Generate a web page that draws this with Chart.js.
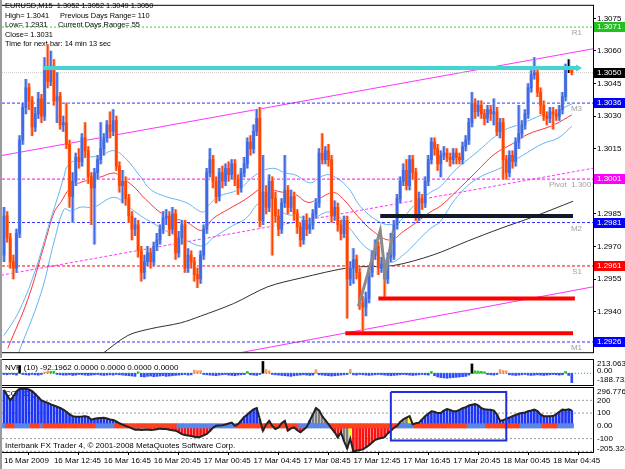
<!DOCTYPE html>
<html>
<head>
<meta charset="utf-8">
<script src="https://cdn.jsdelivr.net/npm/chart.js@4.4.0/dist/chart.umd.min.js"></script>
<style>
  html, body { margin: 0; padding: 0; background: #fff; }
  #wrap { position: relative; width: 625px; height: 469px; background: #fff; overflow: hidden; }
  canvas { position: absolute; left: 0; }
</style>
</head>
<body>
<div id="wrap">
  <canvas id="main" width="625" height="358" style="top:0"></canvas>
  <canvas id="nvp" width="625" height="27" style="top:359px"></canvas>
  <canvas id="cci" width="625" height="83" style="top:386px"></canvas>
</div>
<script>
// ---- time axis ----
const timeLabels = ['16 Mar 2009', '16 Mar 12:45', '16 Mar 16:45', '16 Mar 20:45', '17 Mar 00:45', '17 Mar 04:45',
  '17 Mar 08:45', '17 Mar 12:45', '17 Mar 16:45', '17 Mar 20:45', '18 Mar 00:45', '18 Mar 04:45'];
const timeLabelBars = [0, 16, 32, 48, 64, 80, 96, 112, 128, 144, 160, 176];

// ---- EURUSD M15 candles (bar 0 .. 182) ----
const opens = [
  1.2966, 1.2984, 1.2974, 1.2963, 1.2960, 1.2976, 1.3019, 1.3034, 1.3043, 1.3037,
  1.3025, 1.3031, 1.3038, 1.3030, 1.3051, 1.3046, 1.3053, 1.3037, 1.3039, 1.3026,
  1.3027, 1.3017, 1.2993, 1.3000, 1.3011, 1.3009, 1.3020, 1.3014, 1.3002, 1.2997,
  1.3004, 1.3010, 1.3015, 1.3020, 1.3026, 1.3023, 1.3028, 1.3007, 1.2998, 1.3000,
  1.2992, 1.2984, 1.2978, 1.2980, 1.2968, 1.2958, 1.2963, 1.2967, 1.2963, 1.2970,
  1.2973, 1.2978, 1.2983, 1.2984, 1.2978, 1.2985, 1.2967, 1.2974, 1.2980, 1.2960,
  1.2966, 1.2963, 1.2957, 1.2955, 1.2966, 1.2978, 1.3004, 1.3010, 1.3000, 1.2993,
  1.3004, 1.3000, 1.3006, 1.3003, 1.3008, 1.3001, 1.2997, 1.3004, 1.3008, 1.3018,
  1.3015, 1.3023, 1.3029, 1.2982, 1.2995, 1.2988, 1.3000, 1.2992, 1.2984, 1.2978,
  1.2990, 1.2996, 1.2988, 1.2993, 1.2985, 1.2979, 1.2973, 1.2982, 1.2978, 1.2980,
  1.2985, 1.2990, 1.3013, 1.3010, 1.3014, 1.3010, 1.2984, 1.2988, 1.2980, 1.2976,
  1.2982, 1.2955, 1.2960, 1.2964, 1.2958, 1.2944, 1.2942, 1.2946, 1.2958, 1.2966,
  1.2970, 1.2960, 1.2962, 1.2955, 1.2965, 1.2966, 1.2980, 1.2992, 1.3000, 1.3005,
  1.2998, 1.3010, 1.3004, 1.2984, 1.2992, 1.2990, 1.3000, 1.3010, 1.3018, 1.3015,
  1.3008, 1.3012, 1.3013, 1.3011, 1.3010, 1.3013, 1.3011, 1.3010, 1.3016, 1.3019,
  1.3027, 1.3036, 1.3032, 1.3035, 1.3031, 1.3029, 1.3033, 1.3031, 1.3032, 1.3023,
  1.3027, 1.3010, 1.3004, 1.3012, 1.3009, 1.3018, 1.3022, 1.3026, 1.3031, 1.3043,
  1.3049, 1.3050, 1.3041, 1.3035, 1.3030, 1.3029, 1.3032, 1.3031, 1.3030, 1.3033,
  1.3039, 1.3052, 1.3052
];
const highs = [
  1.2988, 1.2986, 1.2976, 1.2966, 1.2978, 1.3021, 1.3036, 1.3047, 1.3045, 1.3039,
  1.3034, 1.3041, 1.3040, 1.3057, 1.3063, 1.3060, 1.3056, 1.3050, 1.3041, 1.3030,
  1.3036, 1.3019, 1.3004, 1.3013, 1.3015, 1.3022, 1.3027, 1.3016, 1.3004, 1.3006,
  1.3012, 1.3027, 1.3022, 1.3028, 1.3032, 1.3033, 1.3030, 1.3009, 1.3005, 1.3002,
  1.2994, 1.2986, 1.2983, 1.2982, 1.2970, 1.2966, 1.2970, 1.2969, 1.2972, 1.2976,
  1.2980, 1.2986, 1.2987, 1.2986, 1.2988, 1.2987, 1.2977, 1.2982, 1.2982, 1.2969,
  1.2968, 1.2965, 1.2960, 1.2968, 1.2980, 1.3006, 1.3015, 1.3012, 1.3002, 1.3006,
  1.3007, 1.3008, 1.3009, 1.3010, 1.3010, 1.3003, 1.3006, 1.3011, 1.3020, 1.3021,
  1.3026, 1.3033, 1.3034, 1.3012, 1.2998, 1.3003, 1.3002, 1.2995, 1.2987, 1.2992,
  1.3012, 1.2998, 1.2996, 1.2995, 1.2987, 1.2981, 1.2984, 1.2985, 1.2983, 1.2987,
  1.2992, 1.3015, 1.3022, 1.3016, 1.3017, 1.3012, 1.2991, 1.2990, 1.2982, 1.2984,
  1.2984, 1.2963, 1.2969, 1.2966, 1.2960, 1.2947, 1.2949, 1.2960, 1.2968, 1.2973,
  1.2972, 1.2965, 1.2964, 1.2967, 1.2976, 1.2982, 1.2994, 1.3002, 1.3008, 1.3010,
  1.3012, 1.3012, 1.3006, 1.2995, 1.2994, 1.3002, 1.3012, 1.3020, 1.3020, 1.3017,
  1.3014, 1.3016, 1.3015, 1.3013, 1.3015, 1.3015, 1.3013, 1.3018, 1.3021, 1.3029,
  1.3041, 1.3038, 1.3037, 1.3037, 1.3033, 1.3035, 1.3035, 1.3038, 1.3034, 1.3029,
  1.3029, 1.3012, 1.3014, 1.3014, 1.3020, 1.3035, 1.3028, 1.3033, 1.3045, 1.3051,
  1.3057, 1.3052, 1.3043, 1.3037, 1.3032, 1.3034, 1.3034, 1.3033, 1.3035, 1.3041,
  1.3054, 1.3056, 1.3052
];
const lows = [
  1.2963, 1.2972, 1.2960, 1.2955, 1.2958, 1.2974, 1.3017, 1.3031, 1.3033, 1.3021,
  1.3023, 1.3029, 1.3027, 1.3028, 1.3043, 1.3044, 1.3035, 1.3027, 1.3024, 1.3023,
  1.3015, 1.2988, 1.2981, 1.2998, 1.3006, 1.3007, 1.3011, 1.2999, 1.2980, 1.2971,
  1.3001, 1.3008, 1.3012, 1.3018, 1.3020, 1.3021, 1.3005, 1.2995, 1.2990, 1.2989,
  1.2981, 1.2973, 1.2975, 1.2965, 1.2954, 1.2955, 1.2961, 1.2960, 1.2961, 1.2968,
  1.2971, 1.2976, 1.2980, 1.2975, 1.2976, 1.2964, 1.2965, 1.2971, 1.2958, 1.2958,
  1.2960, 1.2954, 1.2951, 1.2953, 1.2964, 1.2976, 1.3002, 1.2997, 1.2990, 1.2991,
  1.2997, 1.2998, 1.3000, 1.3001, 1.2998, 1.2994, 1.2995, 1.3002, 1.3006, 1.3012,
  1.3013, 1.3021, 1.2979, 1.2980, 1.2985, 1.2986, 1.2966, 1.2981, 1.2975, 1.2976,
  1.2988, 1.2985, 1.2986, 1.2982, 1.2976, 1.2970, 1.2971, 1.2975, 1.2976, 1.2978,
  1.2983, 1.2988, 1.3008, 1.3008, 1.3007, 1.2981, 1.2982, 1.2977, 1.2973, 1.2974,
  1.2937, 1.2952, 1.2953, 1.2955, 1.2941, 1.2931, 1.2938, 1.2944, 1.2956, 1.2964,
  1.2957, 1.2958, 1.2947, 1.2953, 1.2963, 1.2964, 1.2978, 1.2990, 1.2998, 1.2996,
  1.2996, 1.3001, 1.2982, 1.2982, 1.2987, 1.2988, 1.2998, 1.3008, 1.3012, 1.3005,
  1.3002, 1.3010, 1.3009, 1.3007, 1.3008, 1.3008, 1.3008, 1.3008, 1.3014, 1.3017,
  1.3025, 1.3029, 1.3030, 1.3029, 1.3026, 1.3027, 1.3028, 1.3026, 1.3021, 1.3020,
  1.3001, 1.3001, 1.3002, 1.3006, 1.3007, 1.3015, 1.3020, 1.3024, 1.3029, 1.3041,
  1.3047, 1.3039, 1.3031, 1.3028, 1.3026, 1.3027, 1.3024, 1.3028, 1.3028, 1.3031,
  1.3037, 1.3050, 1.3049
];
const closes = [
  1.2984, 1.2974, 1.2963, 1.2960, 1.2976, 1.3019, 1.3034, 1.3043, 1.3037, 1.3025,
  1.3031, 1.3038, 1.3030, 1.3051, 1.3046, 1.3053, 1.3037, 1.3039, 1.3026, 1.3027,
  1.3017, 1.2993, 1.3000, 1.3011, 1.3009, 1.3020, 1.3014, 1.3002, 1.2997, 1.3004,
  1.3010, 1.3015, 1.3020, 1.3026, 1.3023, 1.3028, 1.3007, 1.2998, 1.3000, 1.2992,
  1.2984, 1.2978, 1.2980, 1.2968, 1.2958, 1.2963, 1.2967, 1.2963, 1.2970, 1.2973,
  1.2978, 1.2983, 1.2984, 1.2978, 1.2985, 1.2967, 1.2974, 1.2980, 1.2960, 1.2966,
  1.2963, 1.2957, 1.2955, 1.2966, 1.2978, 1.3004, 1.3010, 1.3000, 1.2993, 1.3004,
  1.3000, 1.3006, 1.3003, 1.3008, 1.3001, 1.2997, 1.3004, 1.3008, 1.3018, 1.3015,
  1.3023, 1.3029, 1.2982, 1.2995, 1.2988, 1.3000, 1.2992, 1.2984, 1.2978, 1.2990,
  1.2996, 1.2988, 1.2993, 1.2985, 1.2979, 1.2973, 1.2982, 1.2978, 1.2980, 1.2985,
  1.2990, 1.3013, 1.3010, 1.3014, 1.3010, 1.2984, 1.2988, 1.2980, 1.2976, 1.2982,
  1.2955, 1.2960, 1.2964, 1.2958, 1.2944, 1.2942, 1.2946, 1.2958, 1.2966, 1.2970,
  1.2960, 1.2962, 1.2955, 1.2965, 1.2966, 1.2980, 1.2992, 1.3000, 1.3005, 1.2998,
  1.3010, 1.3004, 1.2984, 1.2992, 1.2990, 1.3000, 1.3010, 1.3018, 1.3015, 1.3008,
  1.3012, 1.3013, 1.3011, 1.3010, 1.3013, 1.3011, 1.3010, 1.3016, 1.3019, 1.3027,
  1.3036, 1.3032, 1.3035, 1.3031, 1.3029, 1.3033, 1.3031, 1.3032, 1.3023, 1.3027,
  1.3010, 1.3004, 1.3012, 1.3009, 1.3018, 1.3022, 1.3026, 1.3031, 1.3043, 1.3049,
  1.3050, 1.3041, 1.3035, 1.3030, 1.3029, 1.3032, 1.3031, 1.3030, 1.3033, 1.3039,
  1.3052, 1.3052, 1.3050
];

// ---- overlays: [bar, price] ----
const upperBand = [[0, 1.2929], [4.5, 1.29393], [9.6, 1.29572], [15, 1.29827], [17.3, 1.2993], [19.2, 1.3002],
  [20.5, 1.30074], [24.6, 1.30105], [31, 1.30118], [35.2, 1.30141], [39, 1.30105], [43.8, 1.3002], [47, 1.29962],
  [51.8, 1.2993], [58.2, 1.29903], [63.7, 1.29858], [65.3, 1.29885], [68.8, 1.2993], [75.2, 1.29962], [80.6, 1.30029],
  [86, 1.3006], [90.2, 1.30038], [93.4, 1.30029], [98.2, 1.29993], [101.4, 1.3002], [104.6, 1.30029], [110, 1.29975],
  [114.2, 1.29885], [119.7, 1.29818], [123.8, 1.2980], [127, 1.29818], [131.2, 1.29885], [136.6, 1.29948],
  [139.8, 1.29975], [144.6, 1.30051], [151, 1.30127], [159.7, 1.3023], [166.1, 1.30266], [172.5, 1.30306],
  [177.6, 1.30329], [182, 1.30356]];
const middleBand = [[1.2, 1.29231], [7.6, 1.29455], [12.9, 1.29706], [16.1, 1.29858], [18.2, 1.29903], [21.4, 1.2997],
  [26.9, 1.30006], [31, 1.3002], [35.2, 1.30038], [37.4, 1.3002], [41.6, 1.29975], [45.4, 1.29917], [51.8, 1.29841],
  [58.2, 1.29814], [63.7, 1.29773], [66.9, 1.29827], [72, 1.29872], [77.4, 1.29917], [81.6, 1.29962], [82.9, 1.29975],
  [88, 1.29953], [93.4, 1.29939], [97.3, 1.29903], [100.5, 1.29917], [105.6, 1.29948], [108.8, 1.29917],
  [113.3, 1.29841], [118.4, 1.29769], [123.8, 1.29729], [128, 1.29769], [132.5, 1.29814], [136.6, 1.29858],
  [139.8, 1.29885], [144.6, 1.29948], [151, 1.30038], [157.4, 1.30127], [162.9, 1.30172], [168, 1.30217],
  [173.4, 1.30244], [176.6, 1.30262], [182, 1.30306]];
const lowerBand = [[4.4, 1.2920], [11.8, 1.29482], [16.1, 1.29724], [19.3, 1.29872], [21.4, 1.29863], [24.6, 1.29881],
  [28.8, 1.29881], [35.2, 1.29926], [39.7, 1.29885], [43.8, 1.29841], [47, 1.29814], [51.8, 1.29773], [58.2, 1.29729],
  [63.7, 1.29702], [66.9, 1.29738], [73.3, 1.29796], [77.4, 1.29827], [82.2, 1.29903], [86, 1.29885], [90.2, 1.2985],
  [93.4, 1.29841], [98.2, 1.29827], [104.6, 1.29858], [110, 1.29796], [115.2, 1.29706], [119.7, 1.29661],
  [123.8, 1.29626], [128, 1.29661], [132.5, 1.29724], [136.6, 1.29782], [139.8, 1.29814], [144.6, 1.29917],
  [151, 1.30006], [159.7, 1.30065], [166.1, 1.30118], [172.5, 1.30172], [177.6, 1.30199], [182, 1.30253]];
const slowMA = [[31, 1.2920], [39.7, 1.2929], [47, 1.29321], [56.6, 1.29348], [63, 1.29379], [73.6, 1.29437],
  [84.5, 1.29514], [95, 1.29554], [111, 1.29603], [124.8, 1.29612], [137.6, 1.29661], [148.5, 1.29724],
  [159, 1.29782], [169.6, 1.29836], [182.4, 1.29908]];

const channelTop = [[-0.96, 1.30118], [188.8, 1.30610]];
const channelMid = [[-0.96, 1.29567], [188.8, 1.30060]];
const channelLow = [[71.7, 1.2920], [188.8, 1.29514]];
const cyanLevel = [[12.8, 1.30522], [184, 1.30522]];
const blackLevel = [[120.6, 1.2984], [182.4, 1.2984]];
const redLevelHigh = [[120, 1.2946], [183, 1.2946]];
const redLevelLow = [[109.4, 1.2930], [182.4, 1.2930]];
const zigzag = [[113.6, 1.29424], [120.6, 1.29773], [122.2, 1.29572], [124.8, 1.29773]];

const priceTicks = [1.2925, 1.2940, 1.2955, 1.2970, 1.2985, 1.3000, 1.3015, 1.3030, 1.3045, 1.3060, 1.3075];
const pivotNames = ['R1', 'M3', 'Pivot  1.3001', 'M2', 'S1', 'M1'];
const pivotLevels = [1.3071, 1.3036, 1.3001, 1.2981, 1.2961, 1.2926];
const bidPrice = 1.3050;

// ---- NVP (10) histogram ----
const nvpValues = [
  -20, -25, -15, -20, -30, 120, -20, -25, -30, -20,
  -25, -30, -20, 20, 40, 30, 35, -20, -25, -30,
  -30, -25, -35, -30, -20, -25, -30, -35, -30, -25,
  -20, -30, -35, -30, -25, -30, -20, -25, -30, -35,
  -40, -45, -50, 25, -55, -60, -50, -45, -55, -50,
  -45, -40, -50, -45, -40, -35, -30, -25, -20, -30,
  -25, 50, 40, 45, -20, -25, -30, -35, -40, -30,
  -25, -20, -30, -35, -40, -30, -25, -20, 30, -25,
  -30, -35, -20, 190, 60, 40, -20, -25, -30, -35,
  -40, -45, -50, -40, -35, -30, -25, -30, -35, -30,
  60, -25, -30, -35, -40, -45, -40, -35, -30, -25,
  -20, 60, -25, -30, -20, -25, -30, -35, -30, -25,
  -20, -25, -30, -35, -40, -35, -30, -25, -20, -25,
  -30, -35, -30, -25, -20, -25, -30, 30, -40, -60,
  -70, -75, -80, -75, -70, -65, -60, -55, -50, -30,
  150, 40, 35, 30, 25, -20, -25, -30, -20, 60,
  45, 40, -25, -30, -35, -30, -25, -20, -30, -35,
  -30, -25, -30, -35, -30, -25, -20, -25, -30, -25,
  30, -35, -150
];
const nvpBlackBars = [5, 83, 150];
const nvpGreenBars = [15, 16, 43, 78, 137, 151, 152, 153, 154, 180];
const nvpOrangeBars = [13, 14, 61, 62, 63, 84, 85, 100, 111, 159, 160, 161];

// ---- CCI (63) ----
const cciValues = [
  280, 240, 200, 230, 270, 290, 292, 290, 285, 272,
  250, 225, 200, 190, 180, 168, 160, 150, 140, 128,
  110, 90, 76, 72, 71, 73, 76, 70, 48, 55,
  60, 62, 63, 58, 50, 46, 35, 20, 10, 0,
  -10, -20, -30, -28, -32, -30, -28, -32, -30, -26,
  -22, -25, -25, -30, -35, -38, -50, -65, -72, -76,
  -80, -85, -89, -85, -75, -63, -40, -15, 0, 3,
  5, 10, 18, 25, 0, 13, 40, 70, 89, 110,
  130, 139, 51, -38, 10, 38, 0, -25, -13, 20,
  38, -38, -20, -13, -35, -51, -30, -10, 40, 89,
  139, 120, 76, 45, 13, -20, -51, -90, -51, -120,
  -177, -101, -203, -195, -190, -185, -170, -152, -130, -110,
  -101, -95, -89, -60, -38, -15, 0, 30, 51, 65,
  76, 13, 20, 25, 50, 76, 95, 114, 110, 100,
  101, 120, 132, 125, 114, 115, 125, 139, 145, 160,
  165, 170, 160, 139, 130, 128, 127, 120, 90, 38,
  45, 55, 65, 76, 85, 95, 101, 105, 115, 120,
  127, 115, 90, 76, 75, 76, 77, 90, 110, 127,
  125, 130, 120
];
const cciGrayBars = [41, 42, 43, 44, 45, 46, 99, 100, 101, 102, 103, 104, 109, 110, 127, 128, 129, 131];
const cciYellowBars = [111, 130];
const cciLevels = [200, 100, -100, -200];
// trend state of the zero line: [first bar, last bar + 1, state]
const zeroTrendRuns = [[0, 1, 'up'], [1, 4, 'dn'], [4, 9, 'up'], [9, 12, 'dn'], [12, 13, 'up'], [13, 30, 'dn'],
  [30, 36, 'up'], [36, 56, 'dn'], [56, 75, 'up'], [75, 95, 'dn'], [95, 105, 'up'], [105, 127, 'dn'],
  [127, 132, 'up'], [132, 149, 'dn'], [149, 155, 'up'], [155, 166, 'dn'], [166, 173, 'up'], [173, 178, 'dn'],
  [178, 183, 'up']];
const cciBox = [[124, 265], [161, 265], [161, -115], [124, -115], [124, 265]];

// ---- look ----
const X_MIN = -0.64, X_MAX = 188.8;
const FONT = '"Liberation Sans", Arial, sans-serif';
const SMALL = { family: FONT, size: 8 };
const BULL = '#4169e1', BEAR = '#ff4500';
const BULL_PALE = '#a9bdf5', BEAR_PALE = '#ffb59a';

const xy = arr => arr.map(p => ({ x: p[0], y: p[1] }));
const barIdx = closes.map((c, i) => i);
const candleColor = i => closes[i] > opens[i] ? BULL : (closes[i] < opens[i] ? BEAR : '#000000');
const paleColor = i => closes[i] >= opens[i] ? BULL_PALE : BEAR_PALE;

function lineSet(points, color, width, dash, extra) {
  return Object.assign({
    type: 'line', data: xy(points), borderColor: color, borderWidth: width,
    borderDash: dash || [], pointRadius: 0, fill: false, tension: 0, order: 5
  }, extra || {});
}
function flatLine(value, color, dash) {
  return lineSet([[X_MIN, value], [X_MAX, value]], color, 1, dash);
}
function xAxis(show) {
  return { type: 'linear', min: X_MIN, max: X_MAX, offset: false, display: show };
}
function frame(chart) {
  const ctx = chart.ctx, a = chart.chartArea;
  ctx.save();
  ctx.strokeStyle = '#000';
  ctx.lineWidth = 1;
  ctx.strokeRect(a.left - 0.5, a.top - 0.5, a.right - a.left + 1, a.bottom - a.top + 1);
  ctx.fillStyle = '#9a9a9a';
  ctx.fillRect(0, 0, 2, chart.height);
  ctx.restore();
}
function axisText(chart, text, y, color) {
  const ctx = chart.ctx;
  ctx.save();
  ctx.font = '8px ' + FONT;
  ctx.fillStyle = color || '#000';
  ctx.textBaseline = 'middle';
  ctx.fillText(text, chart.chartArea.right + 4, y);
  ctx.restore();
}

// ================= main price panel =================
const infoLines = ['EURUSD,M15  1.3052 1.3052 1.3049 1.3050', 'High= 1.3041', 'Low= 1.2931', 'Close= 1.3031',
  'Time for next bar: 14 min 13 sec'];
const mainDecor = {
  id: 'mainDecor',
  beforeDatasetsDraw(chart) {
    const ctx = chart.ctx;
    ctx.save();
    ctx.font = '7.4px ' + FONT;
    ctx.fillStyle = '#000';
    ctx.textBaseline = 'middle';
    infoLines.forEach((t, k) => ctx.fillText(t, 5, 6 + k * 9.5));
    ctx.fillText('Previous Days Range= 110', 60, 15.5);
    ctx.fillText('Current Days Range= 55', 58, 25);
    ctx.restore();
  },
  afterDatasetsDraw(chart) {
    const ctx = chart.ctx, y = chart.scales.y, a = chart.chartArea;
    ctx.save();
    ctx.beginPath();
    ctx.rect(a.left, a.top, a.right - a.left, a.bottom - a.top);
    ctx.clip();
    ctx.font = '8px ' + FONT;
    ctx.fillStyle = '#a0a0a0';
    ctx.textBaseline = 'top';
    pivotLevels.forEach((v, k) => {
      const name = pivotNames[k];
      const py = y.getPixelForValue(v) + 2;
      if (name.length > 2) ctx.fillText(name, 549, py);
      else { ctx.textAlign = 'right'; ctx.fillText(name, 582, py); ctx.textAlign = 'left'; }
    });
    ctx.restore();
  },
  afterDraw(chart) {
    frame(chart);
    const ctx = chart.ctx, y = chart.scales.y;
    const boxColors = ['#1fc21f', '#0000ff', '#ff00ff', '#0000ff', '#ff0000', '#0000ff'];
    const boxes = pivotLevels.map((v, k) => [v, boxColors[k]]);
    boxes.splice(1, 0, [bidPrice, '#000000']);
    ctx.save();
    boxes.forEach(b => {
      const py = Math.round(y.getPixelForValue(b[0]));
      ctx.fillStyle = b[1];
      ctx.fillRect(chart.chartArea.right + 1, py - 5, 32, 10);
      ctx.font = '8px ' + FONT;
      ctx.fillStyle = '#fff';
      ctx.textBaseline = 'middle';
      ctx.fillText(b[0].toFixed(4), chart.chartArea.right + 4, py);
    });
    ctx.restore();
  }
};

new Chart(document.getElementById('main'), {
  type: 'bar',
  data: {
    datasets: [
      flatLine(pivotLevels[0], '#33cc33', [2, 2]),
      flatLine(pivotLevels[1], '#3030ff', [3, 2]),
      flatLine(pivotLevels[2], '#ff00ff', [3, 2]),
      flatLine(pivotLevels[3], '#3030ff', [3, 2]),
      flatLine(pivotLevels[4], '#ff0000', [3, 2]),
      flatLine(pivotLevels[5], '#3030ff', [3, 2]),
      flatLine(bidPrice, '#c8c8c8', [1, 1]),
      lineSet(channelTop, '#ff33ff', 1),
      lineSet(channelLow, '#ff33ff', 1),
      lineSet(channelMid, '#ff33ff', 1, [3, 2]),
      lineSet(slowMA, '#303030', 1, [], { tension: 0.3 }),
      lineSet(upperBand, '#66b3ef', 1, [], { tension: 0.4 }),
      lineSet(lowerBand, '#66b3ef', 1, [], { tension: 0.4 }),
      lineSet(middleBand, '#ff3333', 1, [], { tension: 0.4 }),
      {
        type: 'bar', grouped: false, order: 4, barThickness: 3, borderWidth: 0,
        data: barIdx.map(i => ({ x: i, y: [lows[i], highs[i]] })),
        backgroundColor: barIdx.map(paleColor)
      },
      {
        type: 'bar', grouped: false, order: 3, barThickness: 1, borderWidth: 0,
        data: barIdx.map(i => ({ x: i, y: [lows[i], highs[i]] })),
        backgroundColor: barIdx.map(candleColor)
      },
      {
        type: 'bar', grouped: false, order: 2, barThickness: 2, borderWidth: 0, minBarLength: 1,
        data: barIdx.map(i => ({ x: i, y: [opens[i], closes[i]] })),
        backgroundColor: barIdx.map(candleColor)
      },
      lineSet(zigzag, '#8a8a8a', 3, [], { order: 1 }),
      lineSet(blackLevel, '#111a2a', 4, [], { order: 1 }),
      lineSet(redLevelHigh, '#ff0000', 4, [], { order: 1 }),
      lineSet(redLevelLow, '#ff0000', 4, [], { order: 1 }),
      lineSet(cyanLevel, '#44d4d4', 4, [], {
        order: 1, pointRadius: [0, 4], pointStyle: 'triangle', rotation: 90,
        pointBackgroundColor: '#44d4d4', pointBorderWidth: 0
      })
    ]
  },
  options: {
    responsive: false, animation: false, devicePixelRatio: 1,
    layout: { padding: { left: 2, top: 1, right: 0, bottom: 1 }, autoPadding: false },
    plugins: { legend: { display: false }, tooltip: { enabled: false } },
    scales: {
      x: xAxis(false),
      y: {
        position: 'right', min: 1.29213, max: 1.30808,
        afterFit: s => { s.width = 32; },
        afterBuildTicks: s => { s.ticks = priceTicks.map(v => ({ value: v })); },
        ticks: { autoSkip: false, font: SMALL, color: '#000', padding: 1, callback: v => v.toFixed(4) },
        grid: { drawOnChartArea: false, tickLength: 3, color: '#000' },
        border: { color: '#000' }
      }
    }
  },
  plugins: [mainDecor]
});

// ================= NVP panel =================
const nvpColor = i => {
  if (nvpBlackBars.includes(i)) return '#000000';
  if (nvpGreenBars.includes(i)) return '#22cc22';
  if (nvpOrangeBars.includes(i)) return '#ff9966';
  return '#2f4cff';
};
const nvpDecor = {
  id: 'nvpDecor',
  afterDatasetsDraw(chart) {
    const ctx = chart.ctx;
    ctx.save();
    ctx.font = '8px ' + FONT;
    ctx.fillStyle = '#000';
    ctx.textBaseline = 'middle';
    ctx.fillText('NVP (10) -92.1962 0.0000 0.0000 0.0000 0.0000', 5, 9);
    ctx.restore();
  },
  afterDraw(chart) {
    frame(chart);
    const a = chart.chartArea, y = chart.scales.y;
    axisText(chart, '213.0636', a.top + 4);
    axisText(chart, '0.00', y.getPixelForValue(0) - 2);
    axisText(chart, '-188.732', a.bottom - 5);
  }
};
new Chart(document.getElementById('nvp'), {
  type: 'bar',
  data: {
    datasets: [
      {
        type: 'bar', grouped: false, order: 2, barThickness: 2, borderWidth: 0,
        data: barIdx.map(i => ({ x: i, y: nvpValues[i] })),
        backgroundColor: barIdx.map(nvpColor)
      },
      lineSet([[X_MIN, 0], [X_MAX, 0]], '#22aa22', 1, [1, 2], { order: 1 })
    ]
  },
  options: {
    responsive: false, animation: false, devicePixelRatio: 1,
    layout: { padding: { left: 2, top: 1, right: 0, bottom: 1 }, autoPadding: false },
    plugins: { legend: { display: false }, tooltip: { enabled: false } },
    scales: {
      x: xAxis(false),
      y: {
        position: 'right', min: -188.732, max: 213.0636,
        afterFit: s => { s.width = 32; },
        ticks: { display: false }, grid: { display: false }, border: { color: '#000' }
      }
    }
  },
  plugins: [nvpDecor]
});

// ================= CCI panel =================
const zeroState = barIdx.map(i => zeroTrendRuns.find(r => i >= r[0] && i < r[1])[2]);
const cciColor = i => {
  if (cciYellowBars.includes(i)) return '#ffff00';
  if (cciGrayBars.includes(i)) return '#7f7f7f';
  return cciValues[i] >= 0 ? '#1d35f5' : '#ff1010';
};
const cciDecor = {
  id: 'cciDecor',
  beforeDatasetsDraw(chart) {
    const ctx = chart.ctx;
    ctx.save();
    ctx.font = '8px ' + FONT;
    ctx.fillStyle = '#000';
    ctx.textBaseline = 'middle';
    ctx.fillText('CCI(63 )', 5, 8);
    ctx.restore();
  },
  afterDatasetsDraw(chart) {
    const ctx = chart.ctx;
    ctx.save();
    ctx.font = '8px ' + FONT;
    ctx.fillStyle = '#000';
    ctx.textBaseline = 'middle';
    ctx.fillText('Interbank FX Trader 4, \u00a9 2001-2008 MetaQuotes Software Corp.', 5, chart.chartArea.bottom - 6);
    ctx.restore();
  },
  afterDraw(chart) {
    frame(chart);
    const a = chart.chartArea, y = chart.scales.y;
    axisText(chart, '296.7769', a.top + 4);
    axisText(chart, '200', y.getPixelForValue(200));
    axisText(chart, '100', y.getPixelForValue(100));
    axisText(chart, '0.00', y.getPixelForValue(0));
    axisText(chart, '-100', y.getPixelForValue(-100));
    axisText(chart, '-205.324', a.bottom - 3);
  }
};
new Chart(document.getElementById('cci'), {
  type: 'bar',
  data: {
    datasets: cciLevels.map(v => lineSet([[X_MIN, v], [X_MAX, v]], '#9a9a9a', 1, [2, 2], { order: 6 })).concat([
      {
        type: 'bar', grouped: false, order: 4, barThickness: 2, borderWidth: 0,
        data: barIdx.map(i => ({ x: i, y: cciValues[i] })),
        backgroundColor: barIdx.map(cciColor)
      },
      {
        type: 'bar', grouped: false, order: 3, barThickness: 3.6, borderWidth: 0,
        data: barIdx.map(i => ({ x: i, y: [-17, 17] })),
        backgroundColor: zeroState.map(s => s === 'up' ? '#5a86e8' : '#ff4020')
      },
      lineSet(barIdx.map(i => [i, cciValues[i]]), '#222222', 2, [], { order: 2 }),
      lineSet(cciBox, '#1f2fe0', 2, [], { order: 1 })
    ])
  },
  options: {
    responsive: false, animation: false, devicePixelRatio: 1,
    layout: { padding: { left: 2, top: 2, right: 0, bottom: 0 }, autoPadding: false },
    plugins: { legend: { display: false }, tooltip: { enabled: false } },
    scales: {
      x: {
        type: 'linear', min: X_MIN, max: X_MAX, offset: false, position: 'bottom',
        afterFit: s => { s.height = 17; },
        afterBuildTicks: s => { s.ticks = timeLabelBars.map(v => ({ value: v })); },
        ticks: {
          autoSkip: false, maxRotation: 0, align: 'start', font: SMALL, color: '#000', padding: 1,
          callback: v => timeLabels[timeLabelBars.indexOf(v)]
        },
        grid: { drawOnChartArea: false, tickLength: 3, color: '#000' },
        border: { color: '#000' }
      },
      y: {
        position: 'right', min: -205.324, max: 296.7769,
        afterFit: s => { s.width = 32; },
        ticks: { display: false }, grid: { display: false }, border: { color: '#000' }
      }
    }
  },
  plugins: [cciDecor]
});
</script>
</body>
</html>
